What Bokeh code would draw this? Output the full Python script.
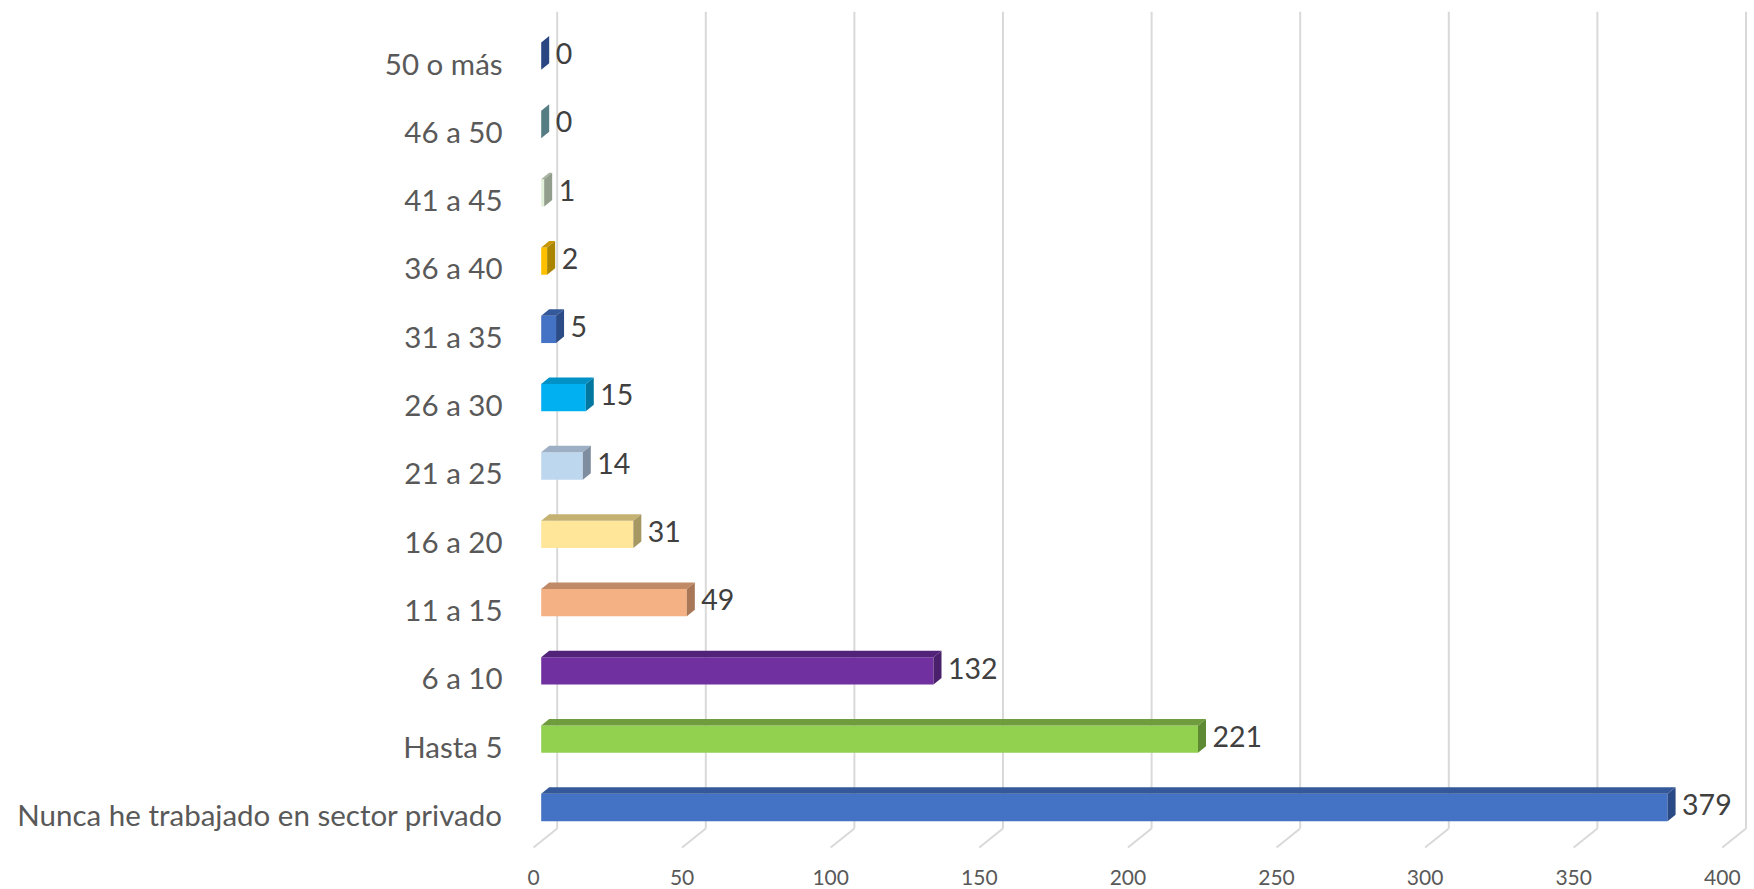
from bokeh.plotting import figure
from bokeh.models import Range1d
from bokeh.core.properties import value
from bokeh.embed import file_html
from bokeh.resources import INLINE

# ---------------- data ----------------
categories = ["Nunca he trabajado en sector privado", "Hasta 5", "6 a 10", "11 a 15",
              "16 a 20", "21 a 25", "26 a 30", "31 a 35", "36 a 40", "41 a 45",
              "46 a 50", "50 o más"]
counts = [379, 221, 132, 49, 31, 14, 15, 5, 2, 1, 0, 0]
ticks = [0, 50, 100, 150, 200, 250, 300, 350, 400]

front_colors = ["#4472C4", "#92D050", "#7030A0", "#F4B183", "#FFE699", "#BDD7EE",
                "#00B0F0", "#4472C4", "#FFC000", "#E2EFDA", "#6A9AA0", "#2F5597"]
top_colors = ["#34599A", "#6F9C3D", "#522479", "#C08A67", "#C5B273", "#9CAFC4",
              "#0091C7", "#34599A", "#C99700", "#A5AF9D", "#5C858B", "#284880"]
side_colors = ["#2A4A86", "#5E8A33", "#4A206C", "#A77757", "#A69862", "#7E8DA0",
               "#00779F", "#2C4C88", "#AA8500", "#939D8C", "#557D83", "#2A4784"]

# ---------------- style / 3D geometry (in data units) ----------------
PX = 2.972      # px per value unit
PY = 68.3       # px per category
BAR_H = 0.40
DX = 8.0 / PX   # bar depth in x
DY = 6.5 / PY   # bar depth in y
WALL_DX = 16.0 / PX
FLOOR_DX = -7.7 / PX
WALL_Y0 = -0.307
FLOOR_Y = -0.586
WALL_TOP = 11.65
FONT = value("Lato")

W, H = 1754, 889
x0 = -540.7 / PX
y0 = -(H - 807) / PY

p = figure(width=W, height=H, x_range=Range1d(x0, x0 + W / PX),
           y_range=Range1d(y0, y0 + H / PY), min_border=0,
           toolbar_location=None, output_backend="svg")
p.xaxis.visible = False
p.yaxis.visible = False
p.grid.visible = False
p.outline_line_color = None
p.background_fill_color = "white"
p.border_fill_color = "white"

# back-wall gridlines and floor lines
gx_back = [t + WALL_DX for t in ticks]
gx_front = [t + FLOOR_DX for t in ticks]
p.segment(x0=gx_back, y0=[WALL_Y0] * len(ticks), x1=gx_back, y1=[WALL_TOP] * len(ticks),
          line_color="#D9D9D9", line_width=2)
p.segment(x0=gx_back, y0=[WALL_Y0] * len(ticks), x1=gx_front, y1=[FLOOR_Y] * len(ticks),
          line_color="#D9D9D9", line_width=2)

idx = list(range(len(categories)))

# bars: front face
p.hbar(y=idx, left=0, right=counts, height=BAR_H, fill_color=front_colors, line_color=None)

# top and side faces
top_xs, top_ys, side_xs, side_ys = [], [], [], []
for i, v in zip(idx, counts):
    yt = i + BAR_H / 2
    yb = i - BAR_H / 2
    top_xs.append([0, v, v + DX, DX])
    top_ys.append([yt, yt, yt + DY, yt + DY])
    side_xs.append([v, v + DX, v + DX, v])
    side_ys.append([yb, yb + DY, yt + DY, yt])
p.patches(xs=top_xs, ys=top_ys, fill_color=top_colors, line_color=None)
p.patches(xs=side_xs, ys=side_ys, fill_color=side_colors, line_color=None)

# value labels
p.text(x=[v + DX + 6.5 / PX for v in counts], y=[i + 0.04 for i in idx],
       text=[str(v) for v in counts], text_align="left", text_baseline="middle",
       text_font=FONT, text_font_size="28.5px", text_color="#404040")

# category labels
p.text(x=[-13.0] * len(categories), y=[i - 0.1 for i in idx], text=categories,
       text_align="right", text_baseline="middle", text_font=FONT,
       text_font_size="29.5px", text_color="#595959")

# value axis tick labels (front floor)
p.text(x=gx_front, y=[-1.025] * len(ticks), text=[str(t) for t in ticks],
       text_align="center", text_baseline="middle", text_font=FONT,
       text_font_size="21px", text_color="#595959")

open("out.html", "w").write(file_html(p, INLINE))
